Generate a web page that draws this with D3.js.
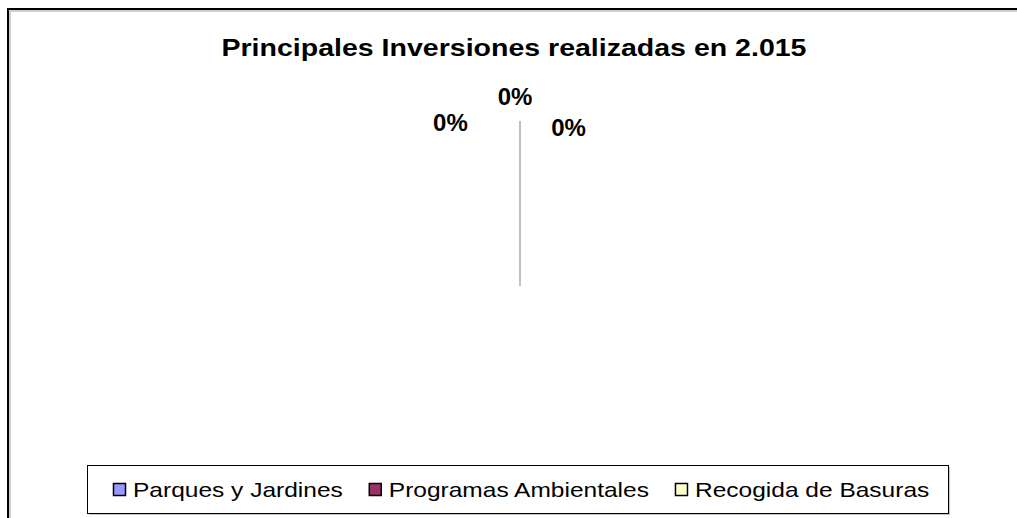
<!DOCTYPE html>
<meta charset="utf-8">
<script src="https://d3js.org/d3.v7.min.js"></script>
<html>
<head>
<style>
body { margin: 0; background: #fff; }
svg { display: block; font-family: "Liberation Sans", Arial, sans-serif; }
</style>
</head>
<body>
<svg id="chart" width="1017" height="518"></svg>

<script>
// data
var title = "Principales Inversiones realizadas en 2.015";
var categories = ["Parques y Jardines", "Programas Ambientales", "Recogida de Basuras"];
var values = [0, 0, 0];
var colors = ["#9999FF", "#993366", "#FFFFCC"];

var svg = d3.select("#chart"),
    width = +svg.attr("width"),
    height = +svg.attr("height");

// excel picture is stretched a bit horizontally
var xStretch = 1.167;

// stretch a text node, returns its new width
function stretchText(node, k) {
  var len = node.getComputedTextLength() * k;
  d3.select(node).attr("textLength", len).attr("lengthAdjust", "spacingAndGlyphs");
  return len;
}

// chart area border (black with a grey inner shadow)
svg.append("rect")
    .attr("x", 10).attr("y", 11)
    .attr("width", width).attr("height", height)
    .attr("fill", "none").attr("stroke", "#a0a0a0").attr("stroke-width", 1);
svg.append("rect")
    .attr("x", 8).attr("y", 9)
    .attr("width", width).attr("height", height)
    .attr("fill", "none").attr("stroke", "#000").attr("stroke-width", 2);

// title
var tt = svg.append("text")
    .attr("x", 514).attr("y", 56)
    .attr("text-anchor", "middle")
    .style("font-size", "23px").style("font-weight", "bold")
    .text(title);
stretchText(tt.node(), 1.24);

// pie
var cx = 520, cy = 286, radius = 165;
var pie = d3.pie().sort(null).value(function(d) { return d; });
var arc = d3.arc().innerRadius(0).outerRadius(radius);
var arcs = pie(values);

var g = svg.append("g").attr("transform", "translate(" + cx + "," + cy + ")");

g.selectAll("path.slice")
  .data(arcs)
  .enter()
  .append("path")
    .attr("class", "slice")
    .attr("d", arc)
    .attr("fill", function(d, i) { return colors[i]; })
    .attr("stroke", "#c0c0c0")
    .attr("stroke-width", 2);

// data labels - all slices are empty so excel spreads them around the top
var labelAngle = [-23, -1.5, 17];   // degrees, for overlap avoidance
var labelRadius = [178, 190, 166];
var fmt = d3.format(".0%");
var total = d3.sum(values);

g.selectAll("text.lab")
  .data(arcs)
  .enter()
  .append("text")
    .attr("class", "lab")
    .attr("x", function(d, i) { return labelRadius[i] * Math.sin(labelAngle[i] * Math.PI / 180); })
    .attr("y", function(d, i) { return -labelRadius[i] * Math.cos(labelAngle[i] * Math.PI / 180); })
    .attr("dy", "0.36em")
    .attr("text-anchor", "middle")
    .style("font-size", "24px").style("font-weight", "bold")
    .text(function(d) { return fmt(total ? d.value / total : 0); });

// legend
var lx = 87, ly = 465, lw = 861, lh = 48;
svg.append("rect")
    .attr("x", lx + 2).attr("y", ly + 2).attr("width", lw).attr("height", lh)
    .attr("fill", "#c8c8c8");
svg.append("rect")
    .attr("x", lx + 0.5).attr("y", ly + 0.5).attr("width", lw).attr("height", lh)
    .attr("fill", "#fff").attr("stroke", "#000").attr("stroke-width", 1);

var xPos = lx + 26;
categories.forEach(function(c, i) {
  svg.append("rect")
      .attr("x", xPos + 0.5).attr("y", ly + 18.5)
      .attr("width", 12).attr("height", 12)
      .attr("fill", colors[i]).attr("stroke", "#000").attr("stroke-width", 1.5);
  var t = svg.append("text")
      .attr("x", xPos + 20).attr("y", ly + 32)
      .style("font-size", "21px")
      .text(c);
  var w = stretchText(t.node(), xStretch);
  xPos += 20 + w + 26;
});
</script>
</body>
</html>
